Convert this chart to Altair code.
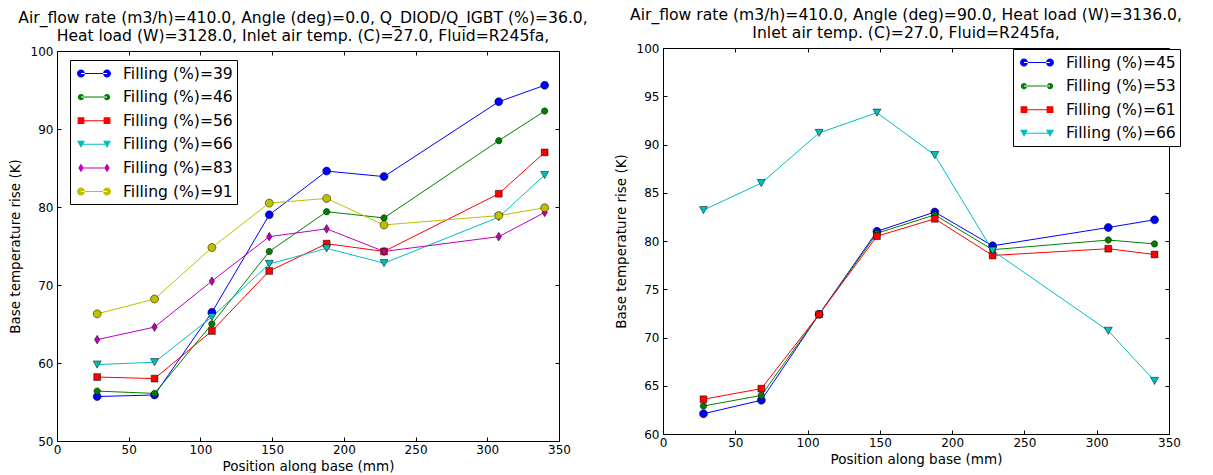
import altair as alt
import pandas as pd

# ---------------- data ----------------
positions = [28, 68, 108, 148, 188, 228, 308, 340]

left_labels = ["Filling (%)=39", "Filling (%)=46", "Filling (%)=56",
               "Filling (%)=66", "Filling (%)=83", "Filling (%)=91"]
left_f39 = [55.7, 55.9, 66.5, 79.0, 84.6, 83.9, 93.5, 95.6]
left_f46 = [56.4, 56.1, 65.0, 74.3, 79.4, 78.6, 88.5, 92.3]
left_f56 = [58.2, 58.0, 64.1, 71.8, 75.3, 74.3, 81.7, 87.0]
left_f66 = [59.8, 60.1, 65.9, 72.7, 74.7, 72.8, 78.7, 84.1]
left_f83 = [63.0, 64.6, 70.5, 76.2, 77.2, 74.3, 76.2, 79.3]
left_f91 = [66.3, 68.2, 74.8, 80.5, 81.1, 77.7, 78.9, 79.9]
left_values = [left_f39, left_f46, left_f56, left_f66, left_f83, left_f91]
left_colors = ["#0000ff", "#008000", "#ff0000", "#00bfbf", "#bf00bf", "#bfbf00"]
left_markers = ["o", "h", "s", "v", "d", "o"]

right_labels = ["Filling (%)=45", "Filling (%)=53", "Filling (%)=61", "Filling (%)=66"]
right_f45 = [62.1, 63.5, 72.4, 81.0, 83.0, 79.5, 81.4, 82.2]
right_f53 = [62.9, 64.0, 72.4, 80.8, 82.7, 79.1, 80.1, 79.7]
right_f61 = [63.6, 64.7, 72.4, 80.5, 82.3, 78.5, 79.2, 78.6]
right_f66 = [83.2, 86.0, 91.2, 93.3, 88.9, 79.0, 70.7, 65.5]
right_values = [right_f45, right_f53, right_f61, right_f66]
right_colors = ["#0000ff", "#008000", "#ff0000", "#00bfbf"]
right_markers = ["o", "h", "s", "v"]

left_title = ["Air_flow rate (m3/h)=410.0, Angle (deg)=0.0, Q_DIOD/Q_IGBT (%)=36.0,",
              "Heat load (W)=3128.0, Inlet air temp. (C)=27.0, Fluid=R245fa,"]
right_title = ["Air_flow rate (m3/h)=410.0, Angle (deg)=90.0, Heat load (W)=3136.0,",
               "Inlet air temp. (C)=27.0, Fluid=R245fa,"]

x_ticks = [0, 50, 100, 150, 200, 250, 300, 350]
left_y_ticks = [50, 60, 70, 80, 90, 100]
right_y_ticks = [60, 65, 70, 75, 80, 85, 90, 95, 100]

FONT = "DejaVu Sans"


# ---------------- marker shapes (svg paths) ----------------
def f(v):
    return f"{v:.3f}"


def marker(m, cx, k):
    """marker m centred at cx (units); k = pixels per unit"""
    if m in ("o", "h"):
        r = (4.0 if m == "o" else 3.2) / k
        return (f"M{f(cx - r)},0A{f(r)},{f(r)} 0 1,0 {f(cx + r)},0"
                f"A{f(r)},{f(r)} 0 1,0 {f(cx - r)},0Z")
    if m == "s":
        h = 3.4 / k
        return f"M{f(cx - h)},{f(-h)}L{f(cx + h)},{f(-h)}L{f(cx + h)},{f(h)}L{f(cx - h)},{f(h)}Z"
    if m == "v":
        w, h = 4.0 / k, 3.6 / k
        return f"M{f(cx - w)},{f(-h)}L{f(cx + w)},{f(-h)}L{f(cx)},{f(h)}Z"
    if m == "d":
        w, h = 2.7 / k, 4.3 / k
        return f"M{f(cx)},{f(-h)}L{f(cx + w)},0L{f(cx)},{f(h)}L{f(cx - w)},0Z"
    return ""


PT_SIZE = 64      # k = 4 px per unit
LEG_SIZE = 400    # k = 10 px per unit


def legend_path(m):
    k = 10.0
    x1, x2 = -0.25, 2.35
    t = 0.5 / k
    line = f"M{f(x1)},{f(-t)}L{f(x2)},{f(-t)}L{f(x2)},{f(t)}L{f(x1)},{f(t)}Z"
    return line + marker(m, x1, k) + marker(m, x2, k)


def panel(labels, values, colors, markers, ymin, ymax, yticks, width, height,
          top_pad, title, leg_x, leg_y, title_dx):
    rows = []
    for lab, vals in zip(labels, values):
        for p, v in zip(positions, vals):
            rows.append({"pos": p, "val": v, "series": lab})
    df = pd.DataFrame(rows)

    xscale = alt.Scale(domain=[0, 350], nice=False, zero=False)
    yscale = alt.Scale(domain=[ymin, ymax], range=[height, top_pad], nice=False, zero=False)
    cscale = alt.Scale(domain=labels, range=colors)

    common = dict(grid=False, domainColor="black", domainWidth=1, tickColor="black",
                  tickWidth=1, labelFlush=False, labelOverlap=False)

    # frame + labels
    x_axis = alt.Axis(values=x_ticks, format="d", labelFontSize=12, labelFont=FONT,
                      labelColor="black", labelPadding=3, ticks=False,
                      title="Position along base (mm)",
                      titleFont=FONT, titleFontSize=13.5, titleFontWeight="normal",
                      titleColor="black", titlePadding=4, **common)
    y_axis = alt.Axis(values=yticks, format="d", labelFontSize=12, labelFont=FONT,
                      labelColor="black", labelPadding=4, ticks=False,
                      title="Base temperature rise (K)",
                      titleFont=FONT, titleFontSize=13.5, titleFontWeight="normal",
                      titleColor="black", titlePadding=8, **common)
    x_top = alt.Axis(orient="top", values=x_ticks, labels=False, title=None, ticks=False,
                     offset=-top_pad, **common)
    y_right = alt.Axis(orient="right", values=yticks, labels=False, title=None, ticks=False,
                       **common)
    # inward ticks: axes flipped onto the opposite edge
    span = height - top_pad
    x_in_bottom = alt.Axis(orient="top", values=x_ticks, labels=False, title=None,
                           domain=False, tickSize=4, offset=-height, **common)
    y_in_left = alt.Axis(orient="right", values=yticks, labels=False, title=None,
                         domain=False, tickSize=4, offset=-width, **common)
    x_in_top = alt.Axis(orient="bottom", values=x_ticks, labels=False, title=None,
                        domain=False, tickSize=4, offset=-span, **common)
    y_in_right = alt.Axis(orient="left", values=yticks, labels=False, title=None,
                          domain=False, tickSize=4, offset=-width, **common)

    base = alt.Chart(df)
    lines = base.mark_line(strokeWidth=1, opacity=1).encode(
        x=alt.X("pos:Q", scale=xscale, axis=x_axis),
        y=alt.Y("val:Q", scale=yscale, axis=y_axis),
        color=alt.Color("series:N", scale=cscale, legend=None),
    )
    points = base.mark_point(filled=True, size=PT_SIZE, opacity=1, stroke="black",
                             strokeWidth=0.5).encode(
        x=alt.X("pos:Q", scale=xscale, axis=x_top),
        y=alt.Y("val:Q", scale=yscale, axis=y_right),
        color=alt.Color("series:N", scale=cscale, legend=None),
        shape=alt.Shape("series:N",
                        scale=alt.Scale(domain=labels, range=[marker(m, 0, 4.0) for m in markers]),
                        legend=None),
    )
    ticks_layer = base.transform_filter("false").mark_point(opacity=0).encode(
        x=alt.X("pos:Q", scale=xscale, axis=x_in_bottom),
        y=alt.Y("val:Q", scale=yscale, axis=y_in_left),
    )
    leg = alt.Legend(orient="none", legendX=leg_x, legendY=leg_y, title=None,
                     strokeColor="black", fillColor="white", padding=3.5, cornerRadius=0,
                     labelFont=FONT, labelFontSize=15.6, labelColor="black", labelOffset=29.5,
                     symbolSize=LEG_SIZE, rowPadding=4.6, symbolStrokeWidth=0,
                     symbolOpacity=1, labelLimit=0)
    legend_layer = base.transform_filter("false").mark_point(filled=True, opacity=1).encode(
        x=alt.X("pos:Q", scale=xscale, axis=x_in_top),
        y=alt.Y("val:Q", scale=yscale, axis=y_in_right),
        fill=alt.Fill("series:N", scale=alt.Scale(domain=labels, range=colors), legend=leg),
        shape=alt.Shape("series:N",
                        scale=alt.Scale(domain=labels, range=[legend_path(m) for m in markers]),
                        legend=leg),
    )
    return alt.layer(lines, points, ticks_layer, legend_layer).resolve_scale(
        shape="independent", fill="independent"
    ).resolve_axis(x="independent", y="independent").properties(
        width=width, height=height,
        title=alt.TitleParams(text=title, font=FONT, fontSize=15.6, fontWeight="normal",
                              color="black", anchor="middle", offset=0,
                              frame="group", lineHeight=18, dx=title_dx),
    )


left = panel(left_labels, left_values, left_colors, left_markers, 50, 100, left_y_ticks,
             502, 393, 3, left_title, 13, 12, -5)
right = panel(right_labels, right_values, right_colors, right_markers, 60, 100, right_y_ticks,
              506, 386, 0, right_title, 350, 1, -10)

chart = alt.hconcat(left, right, spacing=104, bounds="flush").resolve_scale(
    color="independent", shape="independent", fill="independent"
).properties(padding={"left": 0, "top": 0, "right": 0, "bottom": 0}).configure_view(stroke=None)

chart.save("out.html", embed_options={"renderer": "svg", "actions": False})
